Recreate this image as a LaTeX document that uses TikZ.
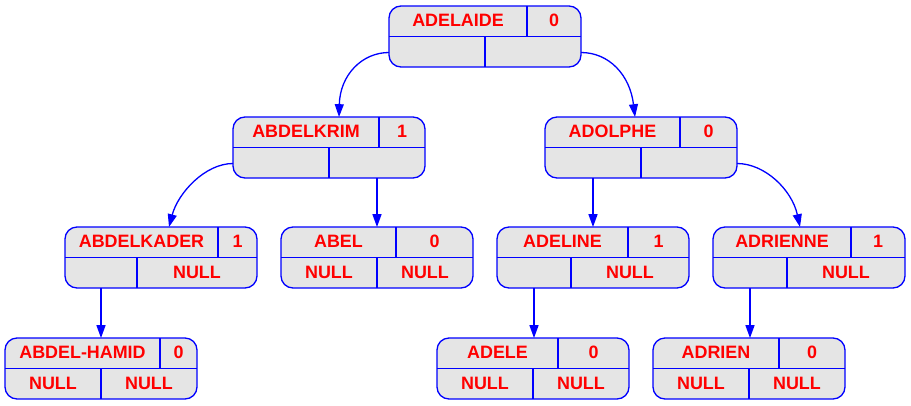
\documentclass[tikz,border=0pt]{standalone}
\usepackage{fontspec}
\setmainfont{Liberation Sans}
\usetikzlibrary{arrows.meta}
\definecolor{recfill}{HTML}{E5E5E5}
\definecolor{recblue}{HTML}{0000FF}
\definecolor{recred}{HTML}{FF0000}
\tikzset{
  rec/.style={draw=recblue, fill=recfill, line width=1.3pt, rounded corners=12pt,
    minimum width=192pt, minimum height=61pt, inner sep=0pt, outer sep=0pt},
  recline/.style={draw=recblue, line width=1.3pt},
  lbl/.style={text=recred, font=\bfseries\fontsize{17.9pt}{20pt}\selectfont, inner sep=0pt, anchor=base},
  link/.style={draw=recblue, line width=1.3pt, -{Triangle[length=12.8pt,width=9pt]}, fill=none}
}
% #1 name, #2 left, #3 top, #4 top divider x, #5 bottom divider x, #6 label, #7 balance, #8 lower-left, #9 lower-right
\newcommand\recnode[9]{%
  \node[rec] (#1) at ({#2+96},{#3+30.5}) {};
  \draw[recline] (#1.west) -- (#1.east);
  \draw[recline] ({#4},{#3}) -- ({#4},{#3+30.5});
  \draw[recline] ({#5},{#3+30.5}) -- ({#5},{#3+61});
  \node[lbl] (#1-name) at ({(#2+#4)/2},{#3+20.8}) {#6};
  \node[lbl] (#1-bal) at ({(#4+#2+192)/2},{#3+20.8}) {#7};
  \node[lbl] (#1-ll) at ({(#2+#5)/2},{#3+51.5}) {#8};
  \node[lbl] (#1-lr) at ({(#5+#2+192)/2},{#3+51.5}) {#9};
  \coordinate (#1-pl) at ({#2},{#3+46.5});
  \coordinate (#1-pr) at ({#2+192},{#3+46.5});
  \coordinate (#1-dl) at ({(#2+#5)/2},{#3+61});
  \coordinate (#1-dr) at ({(#5+#2+192)/2},{#3+61});
}
\begin{document}
\begin{tikzpicture}[x=1pt,y=-1pt]
\useasboundingbox (0,0) rectangle (911,405);
\recnode{n1}{389}{6}{527}{485}{ADELAIDE}{0}{}{}
\recnode{n2}{233}{117}{379}{329}{ABDELKRIM}{1}{}{}
\recnode{n3}{545}{117}{680}{641}{ADOLPHE}{0}{}{}
\recnode{n4}{65}{227}{218}{137}{ABDELKADER}{1}{}{NULL}
\recnode{n5}{281}{227}{396}{377}{ABEL}{0}{NULL}{NULL}
\recnode{n6}{497}{227}{628}{571}{ADELINE}{1}{}{NULL}
\recnode{n7}{713}{227}{851}{787}{ADRIENNE}{1}{}{NULL}
\recnode{n8}{5}{338}{160}{101}{ABDEL-HAMID}{0}{NULL}{NULL}
\recnode{n9}{437}{338}{558}{533}{ADELE}{0}{NULL}{NULL}
\recnode{n10}{653}{338}{779}{749}{ADRIEN}{0}{NULL}{NULL}
\coordinate (t2) at ([xshift=10pt]n2.north);
\coordinate (t3) at ([xshift=-6pt]n3.north);
\coordinate (t4) at ([xshift=8pt]n4.north);
\coordinate (t7) at ([xshift=-9pt]n7.north);
\draw[link] (n1-pl) .. controls (362,52.5) and (340,75) .. (t2);
\draw[link] (n1-pr) .. controls (609,52.5) and (630,75) .. (t3);
\draw[link] (n2-pl) .. controls (205,163.5) and (178,193) .. (t4);
\draw[link] (n3-pr) .. controls (765,163.5) and (792,190) .. (t7);
\draw[link] (n2-dr) -- (n2-dr |- n5.north);
\draw[link] (n3-dl) -- (n3-dl |- n6.north);
\draw[link] (n4-dl) -- (n4-dl |- n8.north);
\draw[link] (n6-dl) -- (n6-dl |- n9.north);
\draw[link] (n7-dl) -- (n7-dl |- n10.north);
\end{tikzpicture}
\end{document}
